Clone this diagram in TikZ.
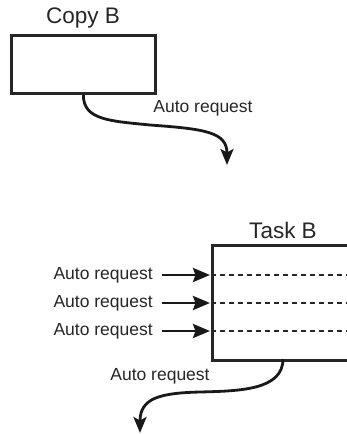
\documentclass[tikz,border=0pt]{standalone}
\usepackage{fontspec}
\setmainfont{Liberation Sans}
\usetikzlibrary{arrows.meta}
\begin{document}
\begin{tikzpicture}[x=1pt,y=-1pt,
  box/.style={draw=black!85,line width=2.8pt,rectangle,inner sep=0pt},
  title/.style={font=\fontsize{22.5}{22.5}\selectfont,inner sep=0pt,text=black!85},
  lab/.style={font=\fontsize{17.5}{17.5}\selectfont,inner sep=0pt,text=black!85},
  conn/.style={draw=black!90,line width=2.8pt,-{Stealth[length=16pt,width=13pt,inset=3.5pt]}},
  dash line/.style={draw=black!85,line width=1.5pt,dash pattern=on 5pt off 4pt}]
\path[use as bounding box] (0,0) rectangle (347,434);
\clip (0,0) rectangle (347,434);
% Copy B
\node[box,minimum width=144pt,minimum height=58pt,anchor=north west] (copyB) at (10,34) {};
\node[title] (copyBt) at (83,18) {Copy B};
\node[lab] (l0) at (203,108) {Auto request};
\draw[conn] (copyB.south) .. controls (83,120) and (110,121) .. (150,125)
  .. controls (205,129) and (227,132) .. (227,165);
% Task B
\node[box,minimum width=150pt,minimum height=115pt,anchor=north west] (taskB) at (211,244) {};
\node[title] (taskBt) at (283,230) {Task B};
\node[lab,anchor=east] (l1) at (153,275) {Auto request};
\node[lab,anchor=east] (l2) at (153,303) {Auto request};
\node[lab,anchor=east] (l3) at (153,331) {Auto request};
\foreach \n in {l1,l2,l3}{
  \draw[dash line] (\n.east -| taskB.west) -- (\n.east -| taskB.east);
  \draw[conn,-{Stealth[length=17pt,width=14pt,inset=2.5pt]}] ([xshift=9pt]\n.east) -- ([xshift=-1pt]\n.east -| taskB.west);
}
\node[lab] (l4) at (160,376) {Auto request};
\coordinate (end2) at (140,433);
\draw[conn] (283,359) .. controls (283,390) and (240,391) .. (200,392)
  .. controls (160,393) and (140,398) .. (end2);
\end{tikzpicture}
\end{document}
